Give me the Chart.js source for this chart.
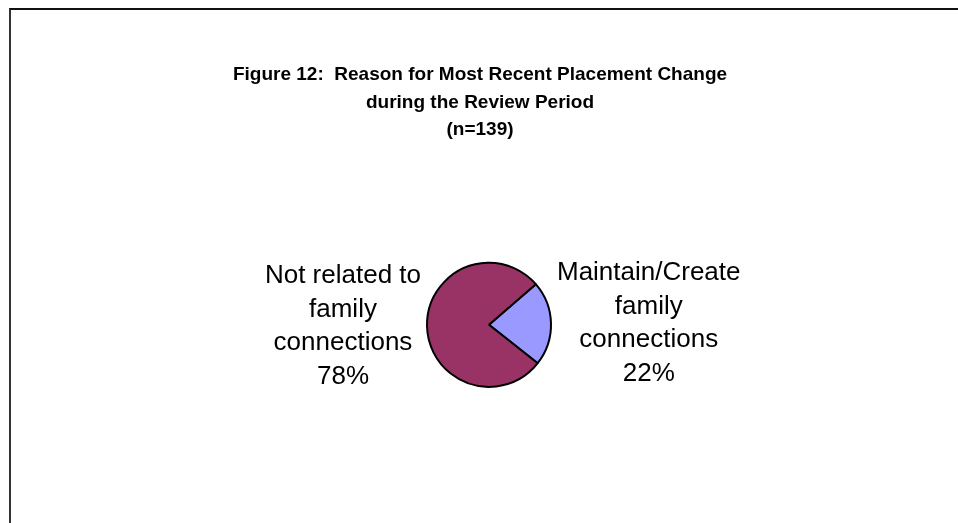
<!DOCTYPE html>
<html lang="en">
<head>
    <meta charset="UTF-8">
    <title>Figure 12: Reason for Most Recent Placement Change</title>
    <style>
        body {
            margin: 0;
            background-color: #fff;
            overflow: hidden;
        }
        /* outer frame of the figure, only its top and left edges fall inside the page */
        .frame {
            position: absolute;
            left: 9px;
            top: 8px;
            width: 1000px;
            height: 600px;
            border-left: 2px solid #333;
            border-top: 2px solid #111;
        }
        .chart-box {
            position: absolute;
            left: 0;
            top: 0;
            width: 958px;
            height: 523px;
        }
    </style>
</head>
<body>

<div class="frame"></div>
<div class="chart-box">
    <canvas id="pieChart"></canvas>
</div>

<script src="https://cdn.jsdelivr.net/npm/chart.js"></script>

<script>
    const titleLines = ['Figure 12:  Reason for Most Recent Placement Change', 'during the Review Period', '(n=139)'];
    const categories = [
        ['Maintain/Create', 'family', 'connections'],
        ['Not related to', 'family', 'connections']
    ];
    const shares = [22, 78];
    const sliceColors = ['#9999FF', '#993366'];

    const fontFamily = '"Liberation Sans", Arial, Helvetica, sans-serif';

    // the pie sits a little right of the title's centre line
    const shiftPlot = {
        id: 'shiftPlot',
        afterLayout(chart, args, opts) {
            chart.chartArea.left += opts.dx;
            chart.chartArea.right += opts.dx;
        }
    };

    // writes each category name and its percentage beside its slice
    const outsideLabels = {
        id: 'outsideLabels',
        afterDatasetsDraw(chart, args, opts) {
            const ctx = chart.ctx;
            const meta = chart.getDatasetMeta(0);
            const values = chart.data.datasets[0].data;
            const total = values.reduce((a, b) => a + b, 0);
            ctx.save();
            ctx.font = opts.font;
            ctx.fillStyle = opts.color;
            ctx.textAlign = 'center';
            ctx.textBaseline = 'middle';
            meta.data.forEach((arc, i) => {
                const p = arc.getProps(['x', 'y', 'startAngle', 'endAngle', 'outerRadius'], true);
                const mid = (p.startAngle + p.endAngle) / 2;
                const lines = chart.data.labels[i].concat(Math.round(values[i] / total * 100) + '%');
                const w = Math.max(...lines.map(l => ctx.measureText(l).width));
                const h = lines.length * opts.lineHeight;
                const ax = p.x + Math.cos(mid) * (p.outerRadius + opts.gap);
                const ay = p.y + Math.sin(mid) * (p.outerRadius + opts.gap);
                const cx = Math.cos(mid) < 0 ? ax - w / 2 : ax + w / 2;
                let y = ay - h / 2 + opts.lineHeight / 2;
                lines.forEach(l => {
                    ctx.fillText(l, cx, y);
                    y += opts.lineHeight;
                });
            });
            ctx.restore();
        }
    };

    new Chart(document.getElementById('pieChart'), {
        type: 'pie',
        data: {
            labels: categories,
            datasets: [{
                data: shares,
                backgroundColor: sliceColors,
                borderColor: '#000',
                borderWidth: 2,
                radius: 62,
                rotation: 49
            }]
        },
        options: {
            responsive: true,
            maintainAspectRatio: false,
            animation: false,
            events: [],
            layout: {
                padding: { top: 61, left: 2, right: 0, bottom: 35 }
            },
            plugins: {
                legend: { display: false },
                tooltip: { enabled: false },
                title: {
                    display: true,
                    text: titleLines,
                    color: '#000',
                    font: { family: fontFamily, size: 19, weight: 'bold', lineHeight: 1.45 },
                    padding: { top: 0, bottom: 18 }
                },
                shiftPlot: { dx: 9 },
                outsideLabels: {
                    font: '26px ' + fontFamily,
                    color: '#000',
                    lineHeight: 33.5,
                    gap: 6
                }
            }
        },
        plugins: [shiftPlot, outsideLabels]
    });
</script>
</body>
</html>
